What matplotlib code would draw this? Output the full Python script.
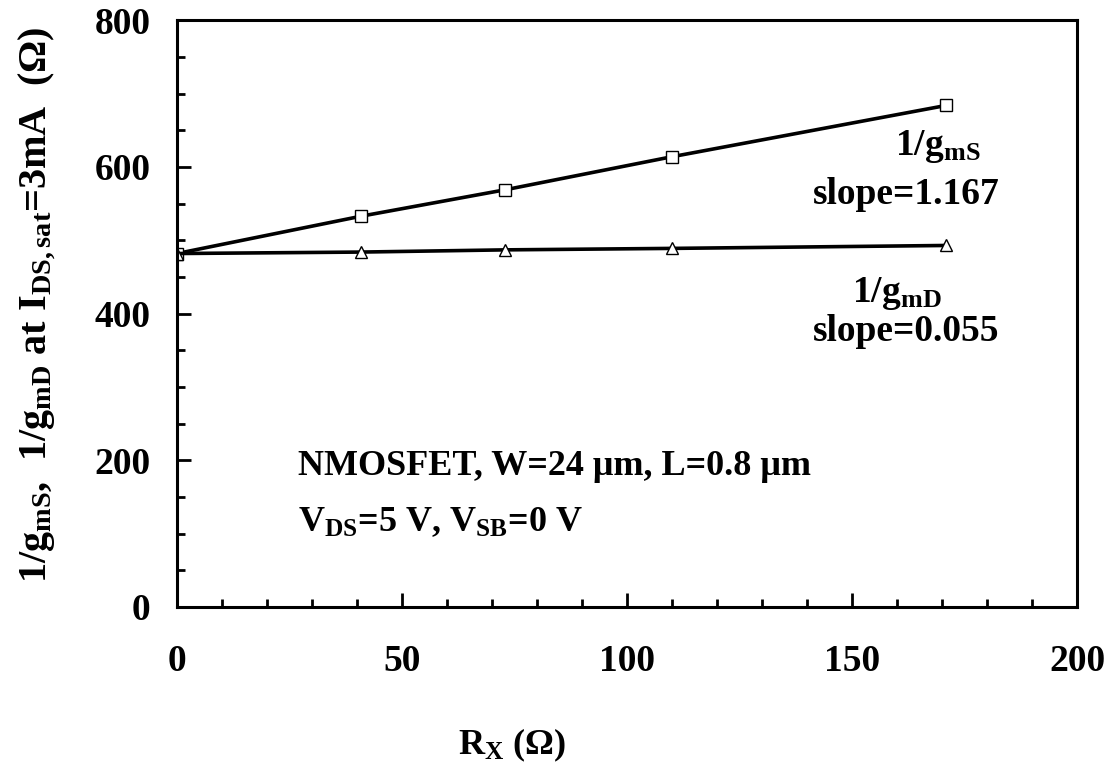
import matplotlib
matplotlib.use("Agg")
import matplotlib.pyplot as plt
from matplotlib.ticker import MultipleLocator

plt.rcParams['font.family'] = ['Liberation Serif', 'DejaVu Serif']
plt.rcParams['font.weight'] = 'bold'
plt.rcParams['mathtext.fontset'] = 'custom'
plt.rcParams['mathtext.rm'] = 'Liberation Serif:bold'
plt.rcParams['mathtext.it'] = 'Liberation Serif:bold'
plt.rcParams['mathtext.bf'] = 'Liberation Serif:bold'

rx = [0, 41, 73, 110, 171]
inv_gms = [482, 533, 569, 614, 684]
inv_gmd = [482, 484, 487, 489, 493]
xticks = [0, 50, 100, 150, 200]
yticks = [0, 200, 400, 600, 800]

fig = plt.figure(figsize=(11.16, 7.76), dpi=100)
ax = fig.add_axes([0.1586, 0.2178, 0.8064, 0.756])

ax.plot(rx, inv_gms, color='black', lw=2.6, marker='s', ms=8, mfc='white', mec='black', mew=1.0)
ax.plot(rx, inv_gmd, color='black', lw=2.6, marker='^', ms=8, mfc='white', mec='black', mew=1.0)

ax.set_xlim(0, 200)
ax.set_ylim(0, 800)
ax.set_xticks(xticks)
ax.set_yticks(yticks)
ax.xaxis.set_minor_locator(MultipleLocator(10))
ax.yaxis.set_minor_locator(MultipleLocator(50))
ax.tick_params(which='both', direction='in', width=2, top=False, right=False)
ax.tick_params(which='major', length=10)
ax.tick_params(which='minor', length=6)
ax.tick_params(axis='x', which='major', pad=27, labelsize=27)
ax.tick_params(axis='y', which='major', pad=19, labelsize=27)
for lab in ax.get_xticklabels() + ax.get_yticklabels():
    lab.set_fontweight('bold')
for s in ax.spines.values():
    s.set_linewidth(2.2)

fs = 27
ax.text(169, 628, r'1/g$_{\mathrm{mS}}$', ha='center', va='center', fontsize=fs, fontweight='bold')
ax.text(162, 563, 'slope=1.167', ha='center', va='center', fontsize=fs, fontweight='bold')
ax.text(160, 428, r'1/g$_{\mathrm{mD}}$', ha='center', va='center', fontsize=fs, fontweight='bold')
ax.text(162, 375, 'slope=0.055', ha='center', va='center', fontsize=fs, fontweight='bold')
ax.text(27, 191, 'NMOSFET, W=24 μm, L=0.8 μm', ha='left', va='center', fontsize=26, fontweight='bold')
ax.text(27, 116, r'V$_{\mathrm{DS}}$=5 V, V$_{\mathrm{SB}}$=0 V', ha='left', va='center', fontsize=26, fontweight='bold')

fig.text(0.459, 0.04, r'R$_{\mathrm{X}}$ (Ω)', ha='center', va='center', fontsize=26, fontweight='bold')
fig.text(0.033, 0.607, r'1/g$_{\mathrm{mS}}$,  1/g$_{\mathrm{mD}}$ at I$_{\mathrm{DS,sat}}$=3mA  (Ω)',
         ha='center', va='center', rotation=90, fontsize=29, fontweight='bold')

fig.savefig('out.png', dpi=100)
